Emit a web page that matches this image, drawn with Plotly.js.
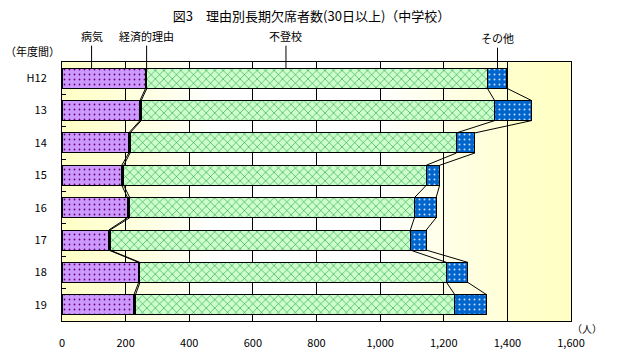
<!DOCTYPE html>
<html><head><meta charset="utf-8">
<script src="https://cdn.plot.ly/plotly-3.0.1.min.js"></script>
<style>html,body{margin:0;padding:0;background:#fff;}#chart{width:617px;height:355px;}</style>
</head><body><div id="chart"></div>
<script>
// ---- data ----
const years = ["H12", "13", "14", "15", "16", "17", "18", "19"];
const byouki = [263, 245, 210, 188, 206, 147, 241, 226];      // 病気
const keizai = [4, 4, 4, 6, 7, 4, 4, 5];                      // 経済的理由
const futoukou = [1070, 1111, 1026, 951, 895, 944, 964, 1004]; // 不登校
const sonota = [61, 116, 58, 42, 68, 50, 67, 100];            // その他
const seriesNames = ["病気", "経済的理由", "不登校", "その他"];
const xTicks = [0, 200, 400, 600, 800, 1000, 1200, 1400, 1600];

const FONT = '"Noto Sans CJK JP", "MS PGothic", sans-serif';
const W = 0.62;
const idx = years.map((_, i) => i);

function barTrace(name, vals, color, pattern) {
  return {
    type: 'bar', orientation: 'h', name: name, x: vals, y: idx, width: W,
    marker: {color: color, line: {color: '#000', width: 1}, pattern: pattern},
    hoverinfo: 'x+name'
  };
}

const traces = [
  barTrace(seriesNames[0], byouki, '#cc99ff', {shape: '.', fgcolor: '#660066', bgcolor: '#cc99ff', size: 5, solidity: 0.1}),
  barTrace(seriesNames[1], keizai, '#000000', {shape: ''}),
  barTrace(seriesNames[2], futoukou, '#ccffcc', {shape: 'x', fgcolor: '#008a22', bgcolor: '#ccffcc', size: 6, solidity: 0.16}),
  barTrace(seriesNames[3], sonota, '#0066cc', {shape: '.', fgcolor: '#ccddff', bgcolor: '#0066cc', size: 5, solidity: 0.12})
];

// series lines connecting boundaries between adjacent bars
const series = [byouki, keizai, futoukou, sonota];
const cum = [];
let running = years.map(() => 0);
series.forEach(s => { running = running.map((v, i) => v + s[i]); cum.push(running.slice()); });
cum.forEach((c) => {
  const xs = [], ys = [];
  for (let i = 0; i < years.length - 1; i++) {
    xs.push(c[i], c[i + 1], null);
    ys.push(i + W / 2, i + 1 - W / 2, null);
  }
  traces.push({type: 'scatter', mode: 'lines', x: xs, y: ys, line: {color: '#000', width: 1}, hoverinfo: 'skip', showlegend: false});
});

// background gradient image
const svg = "<svg xmlns='http://www.w3.org/2000/svg' width='200' height='20' viewBox='0 0 200 20' preserveAspectRatio='none'>" +
  "<defs><linearGradient id='g' x1='0' y1='0' x2='1' y2='0'>" +
  "<stop offset='0' stop-color='#ffffc4'/><stop offset='0.2' stop-color='#ffffea'/>" +
  "<stop offset='0.3' stop-color='#ffffff'/><stop offset='0.62' stop-color='#ffffff'/>" +
  "<stop offset='0.76' stop-color='#ffffe6'/><stop offset='0.874' stop-color='#ffffd6'/>" +
  "<stop offset='0.876' stop-color='#ffffcc'/><stop offset='1' stop-color='#ffffc4'/>" +
  "</linearGradient></defs><rect width='200' height='20' fill='url(#g)'/></svg>";
const bgUri = 'data:image/svg+xml;charset=utf-8,' + encodeURIComponent(svg);

const labelX = [93, 266, 704, 1369];
const labelAy = [-32, -32, -32, -30];
const annotations = seriesNames.map((n, k) => ({
  x: labelX[k], y: -W / 2, xref: 'x', yref: 'y', text: n, showarrow: true,
  arrowhead: 0, arrowwidth: 1, arrowcolor: '#000', ax: 0, ay: labelAy[k], standoff: 0,
  font: {family: FONT, size: 11, color: '#000'}
}));
annotations.push({xref: 'paper', yref: 'paper', x: 0, y: 1, xanchor: 'right', yanchor: 'bottom',
  xshift: 0, yshift: 1, text: '（年度間）', showarrow: false, font: {family: FONT, size: 11, color: '#000'}});
annotations.push({xref: 'paper', yref: 'paper', x: 1.0, y: 0, text: '（人）', showarrow: false,
  xanchor: 'center', yanchor: 'top', xshift: 16, yshift: 2, font: {family: FONT, size: 10, color: '#000'}});

const layout = {
  width: 617, height: 355,
  margin: {l: 62, r: 46, t: 62, b: 34},
  paper_bgcolor: '#ffffff', plot_bgcolor: '#ffffff',
  barmode: 'stack', showlegend: false,
  font: {family: FONT, size: 11, color: '#000'},
  title: {text: '図3　理由別長期欠席者数(30日以上)（中学校）', x: 0.505, xanchor: 'center', y: 0.955, yanchor: 'middle',
    font: {family: FONT, size: 13, color: '#000'}},
  xaxis: {range: [0, 1600], tickvals: xTicks, ticktext: xTicks.map(v => v.toLocaleString('en-US')),
    showgrid: true, gridcolor: '#000', gridwidth: 1, zeroline: false,
    showline: true, mirror: true, linecolor: '#000', linewidth: 1, ticks: '', ticklabelstandoff: 12,
    tickfont: {family: FONT, size: 11, color: '#000'}, fixedrange: true},
  yaxis: {range: [7.5, -0.5], tickvals: idx, ticktext: years, showgrid: false, zeroline: false,
    showline: true, mirror: true, linecolor: '#000', linewidth: 1, ticks: '', ticklabelstandoff: 12,
    minor: {tickvals: idx.slice(0, -1).map(i => i + 0.5), ticks: 'inside', ticklen: 4, tickcolor: '#000', showgrid: false},
    tickfont: {family: FONT, size: 11, color: '#000'}, fixedrange: true},
  images: [{source: bgUri, xref: 'paper', yref: 'paper', x: 0, y: 1, sizex: 1, sizey: 1,
    sizing: 'stretch', xanchor: 'left', yanchor: 'top', layer: 'below'}],
  annotations: annotations
};

Plotly.newPlot('chart', traces, layout, {staticPlot: true});
</script></body></html>
